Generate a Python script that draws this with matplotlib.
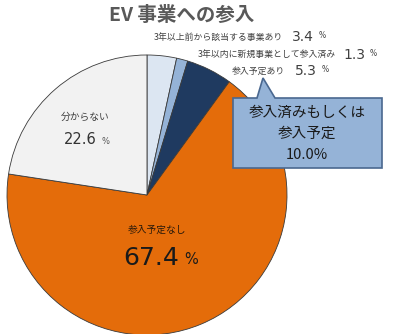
import matplotlib.pyplot as plt
from matplotlib.patches import Polygon

plt.rcParams['font.family'] = ['Noto Sans CJK JP', 'DejaVu Sans']

# slices, clockwise from 12 o'clock
labels = ['3年以上前から該当する事業あり', '3年以内に新規事業として参入済み', '参入予定あり',
          '参入予定なし', '分からない']
values = [3.4, 1.3, 5.3, 67.4, 22.6]
colors = ['#dce6f2', '#95b3d7', '#1f3a60', '#e46c0a', '#f2f2f2']
explode = [0, 0, 0, 0, 0.018]
callout_lines = ['参入済みもしくは', '参入予定', '10.0%']

W, H = 400, 334
fig = plt.figure(figsize=(W / 100, H / 100), dpi=100)
ax = fig.add_axes([0, 0, 1, 1])

def Y(y):
    # pixel row -> data y
    return H - y

cx, cy, r = 147, 195, 140
ax.pie(values, colors=colors, explode=explode, startangle=90, counterclock=False,
       center=(cx, Y(cy)), radius=r,
       wedgeprops=dict(edgecolor='#3a3a3a', linewidth=0.6))
ax.set_xlim(0, W)
ax.set_ylim(0, H)
ax.set_aspect('equal')
ax.axis('off')

NUM = 'DejaVu Sans'

# title
ax.text(182, Y(15), 'EV 事業への参入', ha='center', va='center', fontsize=14,
        fontweight='bold', color='#595959')

# small labels top right
rows = [(283, 37, 292), (336, 55, 343), (285, 71, 295)]
for (xr, yy, xp), lab, v in zip(rows, labels[:3], values[:3]):
    ax.text(xr, Y(yy), lab, ha='right', va='center', fontsize=6.4, color='#404040')
    ax.text(xp, Y(yy), f'{v:.1f}', ha='left', va='center', fontsize=10,
            family=NUM, color='#404040')
    ax.text(xp + 27, Y(yy - 1), '%', ha='left', va='center', fontsize=5.5,
            family=NUM, color='#404040')

# 分からない
ax.text(85, Y(117), labels[4], ha='center', va='center', fontsize=7, color='#404040')
ax.text(80, Y(140), f'{values[4]:.1f}', ha='center', va='center', fontsize=10.5,
        family=NUM, color='#333333')
ax.text(102, Y(141), '%', ha='left', va='center', fontsize=6, family=NUM, color='#555555')

# 参入予定なし
ax.text(157, Y(230), labels[3], ha='center', va='center', fontsize=7, color='#2a1a0a')
ax.text(151, Y(258), f'{values[3]:.1f}', ha='center', va='center', fontsize=18,
        family=NUM, color='#1a1a1a')
ax.text(184, Y(259), '%', ha='left', va='center', fontsize=10.5, family=NUM,
        color='#1a1a1a')

# callout box
pts = [(233, 98), (257, 98), (263, 78), (275, 98), (382, 98), (382, 168), (233, 168)]
ax.add_patch(Polygon([(x, Y(y)) for x, y in pts], closed=True, facecolor='#95b3d7',
                     edgecolor='#4a6890', linewidth=1.2))
for i, line in enumerate(callout_lines):
    ax.text(307, Y(113 + i * 21), line, ha='center', va='center', fontsize=10.5,
            color='#1a1a1a')

fig.savefig('out.png', dpi=100)
